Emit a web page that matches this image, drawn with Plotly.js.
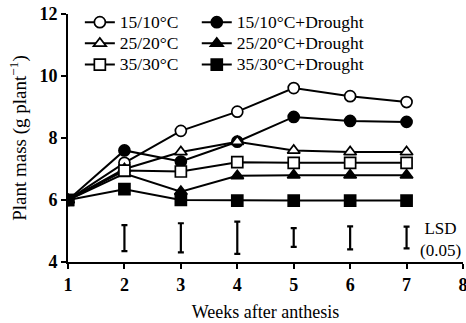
<!DOCTYPE html>
<html>
<head>
<meta charset="utf-8">
<script src="https://cdn.plot.ly/plotly-3.0.1.min.js"></script>
<style>html,body{margin:0;padding:0;background:#fff;}#chart{width:466px;height:323px;}</style>
</head>
<body>
<div id="chart"></div>
<script>
var weeks = [1, 2, 3, 4, 5, 6, 7];
var t15 = [6.0, 7.20, 8.23, 8.85, 9.61, 9.35, 9.16];
var t15D = [6.0, 7.60, 7.24, 7.88, 8.68, 8.55, 8.52];
var t25 = [6.0, 7.00, 7.55, 7.88, 7.60, 7.55, 7.55];
var t25D = [6.0, 6.85, 6.27, 6.78, 6.80, 6.80, 6.80];
var t35 = [6.0, 6.95, 6.92, 7.22, 7.20, 7.20, 7.20];
var t35D = [6.0, 6.35, 6.00, 5.98, 5.98, 5.98, 5.98];
var lsdWeeks = [2, 3, 4, 5, 6, 7];
var lsdCenter = [4.77, 4.78, 4.78, 4.79, 4.78, 4.79];
var lsdHalf = [0.42, 0.47, 0.52, 0.30, 0.37, 0.35];
var names = ['15/10°C', '15/10°C+Drought', '25/20°C', '25/20°C+Drought', '35/30°C', '35/30°C+Drought'];

var F = 'Liberation Serif, Times New Roman, serif';
function tr(y, name, sym, fill, leg) {
  return {x: weeks, y: y, name: '<span style="font-size:17.5px">' + name + '</span>', type: 'scatter', mode: 'lines+markers',
    legend: leg,
    line: {color: '#000', width: 2},
    marker: {symbol: sym, size: 11, color: fill, line: {color: '#000', width: 1.7}}};
}
var data = [
  tr(t15, names[0], 'circle', '#fff', 'legend'),
  tr(t15D, names[1], 'circle', '#000', 'legend2'),
  tr(t25, names[2], 'triangle-up', '#fff', 'legend'),
  tr(t25D, names[3], 'triangle-up', '#000', 'legend2'),
  tr(t35, names[4], 'square', '#fff', 'legend'),
  tr(t35D, names[5], 'square', '#000', 'legend2'),
  {x: lsdWeeks, y: lsdCenter, type: 'scatter', mode: 'markers', showlegend: false,
   marker: {opacity: 0, size: 1},
   error_y: {type: 'data', array: lsdHalf, visible: true, color: '#000', thickness: 2.2, width: 3}}
];
function leg(x) {
  return {orientation: 'v', x: x, y: 1.03, xanchor: 'left', yanchor: 'top', itemwidth: 30,
    traceorder: 'normal',
    font: {family: F, size: 14, color: '#000'}, bgcolor: 'rgba(0,0,0,0)', tracegroupgap: 0};
}
var layout = {
  width: 466, height: 323,
  margin: {l: 68, r: 3, t: 14, b: 61},
  paper_bgcolor: '#fff', plot_bgcolor: '#fff',
  font: {family: F, color: '#000', size: 16},
  showlegend: true,
  legend: leg(0.03),
  legend2: leg(0.326),
  xaxis: {range: [1, 8], tickvals: [1,2,3,4,5,6,7,8], showgrid: false, zeroline: false,
    showline: true, linecolor: '#000', linewidth: 2, ticks: 'outside', ticklen: 5, tickwidth: 2, tickcolor: '#000',
    ticklabeloverflow: 'allow',
    tickfont: {family: F, size: 18, weight: 'bold'},
    title: {text: 'Weeks after anthesis', font: {family: F, size: 18}, standoff: 12}},
  yaxis: {range: [4, 12], tickvals: [4,6,8,10,12], showgrid: false, zeroline: false,
    showline: true, linecolor: '#000', linewidth: 2, ticks: 'outside', ticklen: 5, tickwidth: 2, tickcolor: '#000',
    tickfont: {family: F, size: 18, weight: 'bold'},
    title: {text: 'Plant mass (g plant<sup>−1</sup>)', font: {family: F, size: 19}, standoff: 8}},
  annotations: [{x: 7.6, y: 4.74, xref: 'x', yref: 'y', xanchor: 'center', yanchor: 'middle',
    text: 'LSD<br>(0.05)', showarrow: false, font: {family: F, size: 17}}]
};
Plotly.newPlot('chart', data, layout, {displayModeBar: false, staticPlot: true});
</script>
</body>
</html>
